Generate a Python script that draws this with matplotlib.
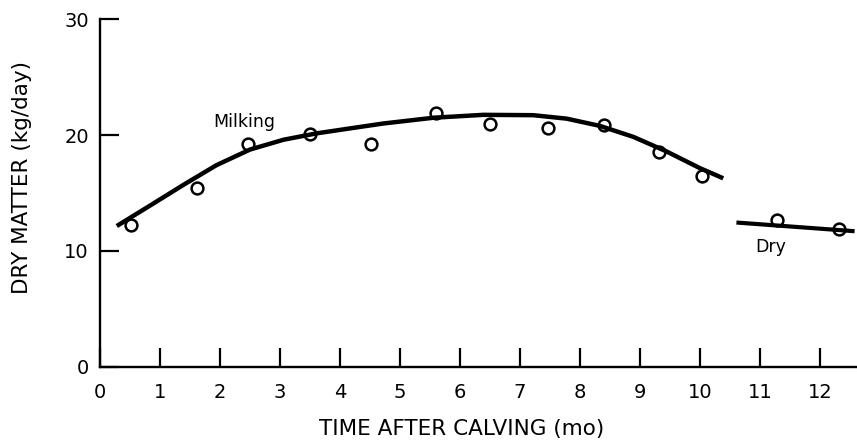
import matplotlib
matplotlib.use("Agg")
import matplotlib.pyplot as plt

# monthly means of dry matter intake (kg/day)
months = [0.51, 1.62, 2.46, 3.50, 4.52, 5.60, 6.51, 7.47, 8.40, 9.32, 10.03, 11.28, 12.32]
intake = [12.2, 15.4, 19.2, 20.1, 19.2, 21.95, 20.95, 20.65, 20.9, 18.5, 16.5, 12.7, 11.9]

# fitted curve for the milking period
milk_t = [0.28, 0.83, 1.39, 1.94, 2.50, 3.06, 3.61, 4.17, 4.72, 5.56, 6.39, 7.22, 7.78,
          8.33, 8.89, 9.44, 10.0, 10.39]
milk_y = [12.15, 13.9, 15.7, 17.4, 18.75, 19.6, 20.15, 20.58, 21.0, 21.5, 21.75, 21.72, 21.42,
          20.8, 19.85, 18.6, 17.15, 16.27]

# fitted line for the dry period
dry_t = [10.61, 12.58]
dry_y = [12.45, 11.7]

xticks = list(range(0, 13))
yticks = [0, 10, 20, 30]

plt.rcParams['font.family'] = ['DejaVu Sans']

fig = plt.figure(figsize=(8.57, 4.42), dpi=100)
ax = fig.add_axes([100 / 857, 75.3 / 442, 757 / 857, 347.4 / 442])

ax.plot(months, intake, 'o', ms=8.5, mfc='white', mec='black', mew=1.8, zorder=2)
ax.plot(milk_t, milk_y, color='black', lw=3.2, solid_capstyle='butt',
        solid_joinstyle='round', zorder=3)
ax.plot(dry_t, dry_y, color='black', lw=3.0, solid_capstyle='butt', zorder=3)

ax.text(2.4, 21.15, "Milking", fontsize=12.5, ha='center', va='center')
ax.text(11.18, 10.35, "Dry", fontsize=12.5, ha='center', va='center')

ax.set_xlim(0, 12.62)
ax.set_ylim(0, 30)
ax.set_xticks(xticks)
ax.set_yticks(yticks)
ax.tick_params(direction='in', length=14, width=1.6, labelsize=14)
ax.tick_params(axis='y', pad=8)
ax.tick_params(axis='x', pad=12)

for side in ['top', 'right']:
    ax.spines[side].set_visible(False)
for side in ['left', 'bottom']:
    ax.spines[side].set_linewidth(1.7)

ax.set_xlabel("TIME AFTER CALVING (mo)", fontsize=15.5)
ax.set_ylabel("DRY MATTER (kg/day)", fontsize=15.5)
ax.xaxis.label.set_va('center')
ax.yaxis.label.set_va('center')
ax.xaxis.set_label_coords(0.478, -0.179)
ax.yaxis.set_label_coords(-0.103, 0.545)

fig.savefig("out.png", dpi=100)
